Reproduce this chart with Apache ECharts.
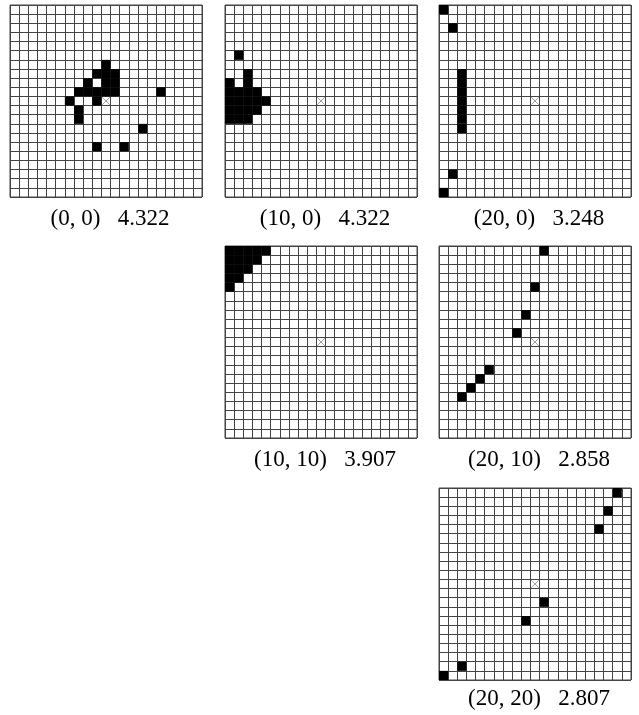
<!DOCTYPE html>
<html>
<head>
<meta charset="utf-8">
<script src="https://cdn.jsdelivr.net/npm/echarts@6/dist/echarts.min.js"></script>
<style>
  html, body { margin: 0; padding: 0; background: #fff; }
  #main { width: 639px; height: 715px; }
</style>
</head>
<body>
<div id="main"></div>
<script>
// 21 x 21 window, cells given as [column, row], row 0 at the top
var GRID_N = 21;
var offsets = ['(0, 0)', '(10, 0)', '(20, 0)', '(10, 10)', '(20, 10)', '(20, 20)'];
var scores = ['4.322', '4.322', '3.248', '3.907', '2.858', '2.807'];
var centre = [[10, 10]];

var cells00 = [
    [10, 6], [9, 7], [10, 7], [11, 7], [8, 8], [10, 8], [11, 8],
    [7, 9], [8, 9], [9, 9], [10, 9], [11, 9], [16, 9],
    [6, 10], [9, 10], [7, 11], [7, 12], [14, 13], [9, 15], [12, 15]
];
var cells100 = [
    [1, 5], [2, 7], [0, 8], [2, 8],
    [0, 9], [1, 9], [2, 9], [3, 9],
    [0, 10], [1, 10], [2, 10], [3, 10], [4, 10],
    [0, 11], [1, 11], [2, 11], [3, 11],
    [0, 12], [1, 12], [2, 12]
];
var cells200 = [
    [0, 0], [1, 2], [2, 7], [2, 8], [2, 9], [2, 10], [2, 11], [2, 12], [2, 13],
    [1, 18], [0, 20]
];
var cells1010 = [
    [0, 0], [1, 0], [2, 0], [3, 0], [4, 0],
    [0, 1], [1, 1], [2, 1], [3, 1],
    [0, 2], [1, 2], [2, 2],
    [0, 3], [1, 3],
    [0, 4]
];
var cells2010 = [
    [11, 0], [10, 4], [9, 7], [8, 9], [5, 13], [4, 14], [3, 15], [2, 16]
];
var cells2020 = [
    [19, 0], [18, 2], [17, 4], [11, 12], [9, 14], [2, 19], [0, 20]
];
var panelCells = [cells00, cells100, cells200, cells1010, cells2010, cells2020];

// panel placement (left, top) in pixels
var panelPos = [[10, 5], [225, 5], [439, 5], [225, 246], [439, 246], [439, 488]];
var labelY = [219, 219, 219, 460, 460, 699];
var SIZE = 192;

var chartDom = document.getElementById('main');
var myChart = echarts.init(chartDom, null, { renderer: 'canvas' });

function renderCell(params, api) {
    var a = api.coord([api.value(0), api.value(1)]);
    var b = api.coord([api.value(0) + 1, api.value(1) + 1]);
    return {
        type: 'rect',
        shape: {
            x: Math.min(a[0], b[0]),
            y: Math.min(a[1], b[1]),
            width: Math.abs(b[0] - a[0]),
            height: Math.abs(b[1] - a[1])
        },
        style: { fill: '#000' }
    };
}

function renderCross(params, api) {
    var a = api.coord([api.value(0) + 0.08, api.value(1) + 0.08]);
    var b = api.coord([api.value(0) + 0.92, api.value(1) + 0.92]);
    var lineStyle = { stroke: '#888', lineWidth: 0.8 };
    return {
        type: 'group',
        children: [
            { type: 'line', shape: { x1: a[0], y1: a[1], x2: b[0], y2: b[1] }, style: lineStyle },
            { type: 'line', shape: { x1: a[0], y1: b[1], x2: b[0], y2: a[1] }, style: lineStyle }
        ]
    };
}

var grids = [], xAxes = [], yAxes = [], series = [], texts = [];
var axisCommon = {
    type: 'value',
    min: 0,
    max: GRID_N,
    interval: 1,
    axisLabel: { show: false },
    axisTick: { show: false },
    axisLine: { show: false },
    splitLine: { show: true, lineStyle: { color: '#444', width: 1 } }
};

panelCells.forEach(function (cells, i) {
    grids.push({
        left: panelPos[i][0], top: panelPos[i][1], width: SIZE, height: SIZE,
        show: true, borderColor: '#444', borderWidth: 1, backgroundColor: '#fff'
    });
    xAxes.push(Object.assign({ gridIndex: i }, axisCommon));
    yAxes.push(Object.assign({ gridIndex: i, inverse: true }, axisCommon));
    series.push({
        type: 'custom', xAxisIndex: i, yAxisIndex: i,
        renderItem: renderCell, data: cells, silent: true
    });
    series.push({
        type: 'custom', xAxisIndex: i, yAxisIndex: i,
        renderItem: renderCross, data: centre, silent: true
    });
    texts.push({
        type: 'text',
        x: panelPos[i][0] + SIZE / 2 + 4,
        y: labelY[i],
        style: {
            text: offsets[i] + '   ' + scores[i],
            font: '23px "Liberation Serif"',
            fill: '#000',
            align: 'center',
            verticalAlign: 'middle'
        }
    });
});

var option = {
    animation: false,
    backgroundColor: '#fff',
    grid: grids,
    xAxis: xAxes,
    yAxis: yAxes,
    series: series,
    graphic: texts
};

option && myChart.setOption(option);
</script>
</body>
</html>
